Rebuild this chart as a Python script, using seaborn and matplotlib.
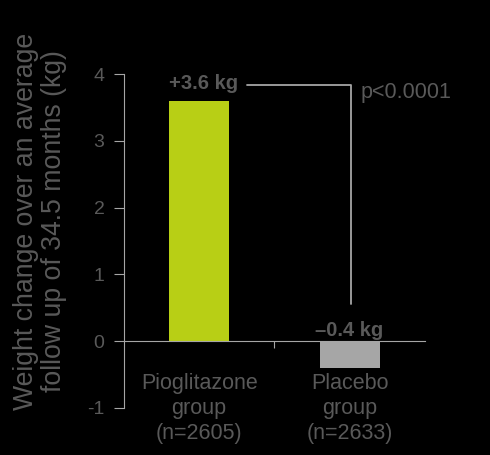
import matplotlib
matplotlib.use('Agg')
import matplotlib.pyplot as plt
import seaborn as sns
import pandas as pd

groups = ['Pioglitazone\ngroup\n(n=2605)', 'Placebo\ngroup\n(n=2633)']
weight_change = [3.6, -0.4]
bar_labels = ['+3.6 kg', '\u20130.4 kg']
bar_colors = ['#b8cf15', '#a6a6a6']
p_text = 'p<0.0001'

df = pd.DataFrame({'group': groups, 'change': weight_change})

sns.set_style('dark')
plt.rcParams['font.family'] = ['Liberation Sans', 'DejaVu Sans']
plt.rcParams['axes.unicode_minus'] = False
txt = '#595959'
axis_col = '#a6a6a6'

fig = plt.figure(figsize=(4.9, 4.55), dpi=100, facecolor='black')
ax = fig.add_axes([0.253, 0.1033, 0.614, 0.734])
ax.set_facecolor('black')

sns.barplot(data=df, x='group', y='change', hue='group', palette=bar_colors,
            width=0.4, saturation=1, legend=False, linewidth=0, ax=ax)

ax.set_xlim(-0.5, 1.5)
ax.set_ylim(-1, 4)
ax.set_yticks([-1, 0, 1, 2, 3, 4])
ax.set_xticks([0.5])
ax.set_xticklabels([''])
ax.grid(False)

for s in ['top', 'right']:
    ax.spines[s].set_visible(False)
ax.spines['left'].set_color(axis_col)
ax.spines['bottom'].set_color(axis_col)
ax.spines['bottom'].set_position(('data', 0))
ax.tick_params(axis='y', colors=axis_col, labelcolor=txt, labelsize=14,
               length=7, pad=7, direction='out', left=True)
ax.tick_params(axis='x', colors=axis_col, length=5, direction='out', bottom=True)

for i, g in enumerate(groups):
    ax.text(i, -0.48, g, ha='center', va='top', fontsize=15.5, color=txt,
            linespacing=1.25)

ax.set_xlabel('')
ax.set_ylabel('Weight change over an average\nfollow up of 34.5 months (kg)',
              fontsize=19.2, color=txt, linespacing=1.1)
ax.yaxis.set_label_coords(-0.19, 0.56)

ax.text(0.03, 3.72, bar_labels[0], ha='center', va='bottom', fontsize=14.5,
        fontweight='bold', color=txt)
ax.text(1.0, 0.02, bar_labels[1], ha='center', va='bottom', fontsize=14.5,
        fontweight='bold', color=txt)

ax.plot([0.32, 1.007, 1.007], [3.84, 3.84, 0.55], color=axis_col, lw=1.3,
        clip_on=False)
ax.text(1.075, 3.72, p_text, ha='left', va='center', fontsize=15.5, color=txt)

fig.savefig('out.png', dpi=100, facecolor='black')
